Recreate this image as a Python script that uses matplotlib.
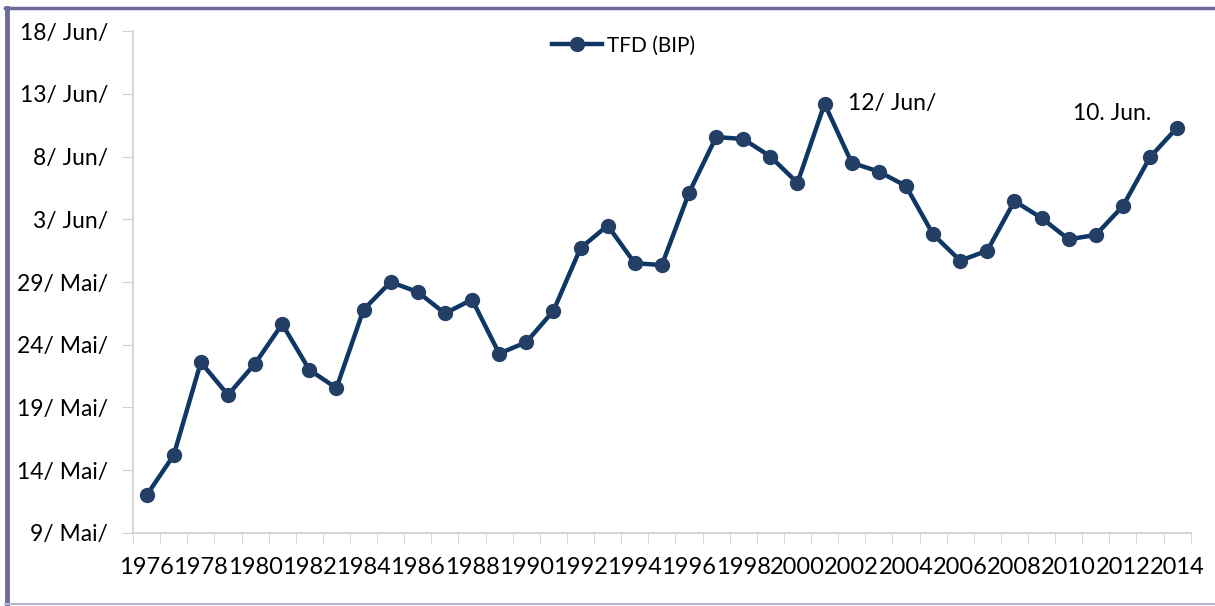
import numpy as np
import matplotlib.pyplot as plt
from matplotlib.lines import Line2D

# Tag nach dem 9. Mai (0 = 9. Mai, 40 = 18. Juni)
years = list(range(1976, 2015))
tfd_days = [3.0, 6.2, 13.6, 11.0, 13.5, 16.65, 13.0, 11.55, 17.8, 20.0,
            19.2, 17.5, 18.6, 14.3, 15.2, 17.7, 22.7, 24.5, 21.5, 21.35,
            27.1, 31.55, 31.4, 30.0, 27.9, 34.2, 29.5, 28.8, 27.65, 23.8,
            21.7, 22.5, 26.45, 25.1, 23.4, 23.75, 26.05, 29.95, 32.3]
ytick_vals = [0, 5, 10, 15, 20, 25, 30, 35, 40]
ytick_labels = ["9/ Mai/", "14/ Mai/", "19/ Mai/", "24/ Mai/", "29/ Mai/",
                "3/ Jun/", "8/ Jun/", "13/ Jun/", "18/ Jun/"]
series_name = "TFD (BIP)"

plt.rcParams['font.family'] = ['Lato', 'DejaVu Sans']

fig = plt.figure(figsize=(12.15, 6.06), dpi=100)
ax = fig.add_axes([0.1095, 0.1205, 0.8705, 0.8283])

x = np.arange(len(years))
line, = ax.plot(x, tfd_days, color='#0e3765', lw=3.2, marker='o', ms=10,
                mfc='#243f66', mec='#243f66', solid_joinstyle='round')

ax.set_xlim(-0.5, len(years) - 0.5)
ax.set_ylim(0, 40)
ax.set_yticks(ytick_vals)
ax.set_yticklabels(ytick_labels, fontsize=16.5)
ax.set_xticks(x[::2])
ax.set_xticklabels([str(y) for y in years[::2]], fontsize=17)
ax.set_xticks(np.arange(-0.5, len(years)), minor=True)
ax.tick_params(axis='x', which='major', length=0, pad=17)
ax.tick_params(axis='x', which='minor', length=8, color='#d0d0d0', direction='out')
ax.tick_params(axis='y', length=8, color='#d0d0d0', pad=10)

for s in ['top', 'right']:
    ax.spines[s].set_visible(False)
for s in ['left', 'bottom']:
    ax.spines[s].set_color('#d0d0d0')
    ax.spines[s].set_linewidth(1.2)

ax.annotate("12/ Jun/", xy=(x[years.index(2001)], tfd_days[years.index(2001)]),
            xytext=(17, 0), textcoords='offset points', fontsize=16.5, va='center')
ax.annotate("10. Jun.", xy=(x[-1], tfd_days[-1]),
            xytext=(-75, 10), textcoords='offset points', fontsize=16.5, va='center')

ax.legend([line], [series_name], loc='center', bbox_to_anchor=(0.513, 0.925),
          bbox_transform=fig.transFigure, frameon=False, fontsize=15,
          handlelength=2.4, handletextpad=0.25, borderpad=0)

# Rahmen
fig.add_artist(Line2D([0.006, 0.006], [0.003, 0.987], transform=fig.transFigure,
                      color='#6b6ba0', lw=3.5))
fig.add_artist(Line2D([0.004, 1.0], [0.987, 0.987], transform=fig.transFigure,
                      color='#6b6ba0', lw=2.5))
fig.add_artist(Line2D([0.004, 1.0], [0.004, 0.004], transform=fig.transFigure,
                      color='#b8b8d4', lw=1.5))

fig.savefig("out.png", dpi=100)
